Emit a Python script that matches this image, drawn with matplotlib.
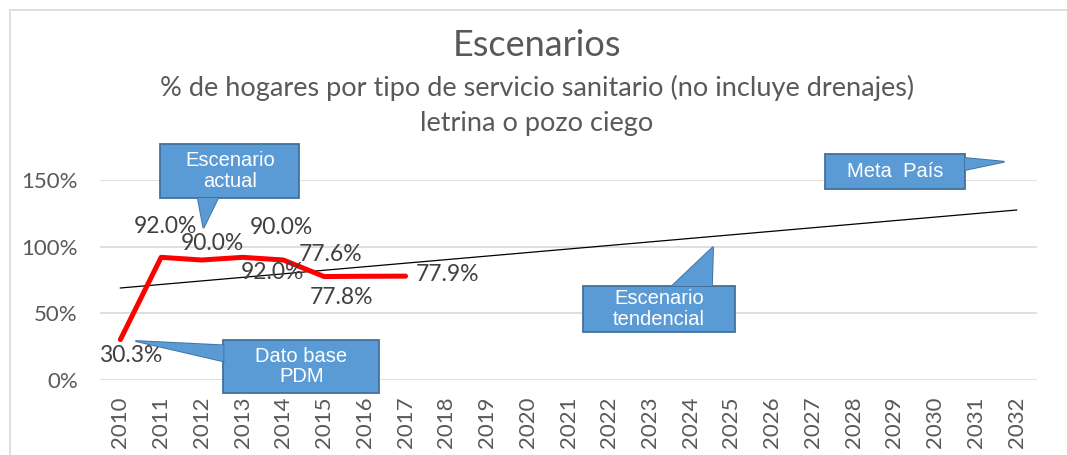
import matplotlib
matplotlib.use("Agg")
import matplotlib.pyplot as plt
from matplotlib.patches import Polygon
from matplotlib.lines import Line2D
from matplotlib.ticker import FuncFormatter

# --- datos ---
years = list(range(2010, 2033))
actual_years = [2010, 2011, 2012, 2013, 2014, 2015, 2016, 2017]
actual_vals = [30.3, 92.0, 90.0, 92.0, 90.0, 77.6, 77.8, 77.9]
trend_years = [2010, 2032]
trend_vals = [69.0, 127.5]
y_ticks = [0, 50, 100, 150]

# desplazamiento de etiquetas (pixeles), como quedaron en el original
label_offsets = [(10, -16), (4, 31), (11, 16), (30, -15),
                 (-2, 33), (6, 22), (-23, -21), (42, 2)]

# callouts: (texto, caja x0, x1, y0, y1, punta, base del puntero)
callouts = [
    ("Escenario\nactual", (2010.98, 2014.39, 136.5, 177.0),
     (2012.04, 114.0), [(2011.9, 136.5), (2012.4, 136.5)]),
    ("Meta  País", (2027.29, 2030.73, 143.25, 169.5),
     (2031.7, 163.7), [(2030.73, 166.5), (2030.73, 157.5)]),
    ("Escenario\ntendencial", (2021.36, 2025.08, 36.0, 70.5),
     (2024.55, 99.75), [(2023.54, 70.5), (2024.52, 70.5)]),
    ("Dato base\nPDM", (2012.53, 2016.35, -9.75, 30.0),
     (2010.37, 29.25), [(2012.53, 26.0), (2012.53, 14.0)]),
]

gris = "#595959"
font = "Lato"

fig = plt.figure(figsize=(10.67, 4.55), dpi=100)
ax = fig.add_axes([100 / 1067, 75 / 455, 937 / 1067, 200 / 455])

# marco del grafico (solo arriba e izquierda quedan visibles)
top = 1 - 10 / 455
left = 10 / 1067
fig.lines.append(Line2D([left, 1], [top, top], transform=fig.transFigure,
                        color="#D9D9D9", linewidth=1.2))
fig.lines.append(Line2D([left, left], [0, top], transform=fig.transFigure,
                        color="#D9D9D9", linewidth=1.2))

ax.set_xlim(years[0] - 0.5, years[-1] + 0.5)
ax.set_ylim(0, 150)
ax.set_yticks(y_ticks)
ax.yaxis.set_major_formatter(FuncFormatter(lambda v, p: f"{v:.0f}%"))
ax.set_xticks(years)
ax.set_xticklabels([str(y) for y in years], rotation=90)
ax.grid(axis="y", color="#D9D9D9", linewidth=1.2)
ax.set_axisbelow(True)
for s in ax.spines.values():
    s.set_visible(False)
ax.tick_params(length=0, labelsize=16, labelcolor=gris)
ax.tick_params(axis="y", pad=16)
ax.tick_params(axis="x", pad=12)
for t in ax.get_xticklabels() + ax.get_yticklabels():
    t.set_fontfamily(font)

# lineas
ax.plot(trend_years, trend_vals, color="black", linewidth=0.9, zorder=3)
ax.plot(actual_years, actual_vals, color="#FF0000", linewidth=3.6,
        solid_capstyle="round", zorder=4)

for x, v, off in zip(actual_years, actual_vals, label_offsets):
    ax.annotate(f"{v:.1f}%", (x, v), xytext=off, textcoords="offset pixels",
                ha="center", va="center", fontsize=16.5, color="#404040",
                family=font, zorder=5)

# callouts
for txt, (x0, x1, y0, y1), tip, base in callouts:
    bx = Polygon([(x0, y0), (x1, y0), (x1, y1), (x0, y1)], closed=True,
                 facecolor="#5B9BD5", edgecolor="#41719C", linewidth=1.3,
                 clip_on=False, zorder=6)
    ptr = Polygon([base[0], tip, base[1]], closed=True,
                  facecolor="#5B9BD5", edgecolor="#41719C", linewidth=1.3,
                  clip_on=False, zorder=6)
    cover = Polygon([base[0], tip, base[1]], closed=True,
                    facecolor="#5B9BD5", edgecolor="none",
                    clip_on=False, zorder=7)
    ax.add_patch(bx)
    ax.add_patch(ptr)
    ax.add_patch(cover)
    ax.text((x0 + x1) / 2, (y0 + y1) / 2, txt, ha="center", va="center",
            color="white", fontsize=14.5, family="Liberation Sans",
            linespacing=1.1, zorder=8, clip_on=False)

# titulos
fig.text(537 / 1067, 1 - 45 / 455, "Escenarios", ha="center", va="center",
         fontsize=26, color=gris, family=font)
fig.text(537 / 1067, 1 - 88 / 455,
         "% de hogares por tipo de servicio sanitario (no incluye drenajes)",
         ha="center", va="center", fontsize=19.5, color=gris, family=font)
fig.text(537 / 1067, 1 - 124 / 455, "letrina o pozo ciego", ha="center",
         va="center", fontsize=19.5, color=gris, family=font)

fig.savefig("out.png", dpi=100)
